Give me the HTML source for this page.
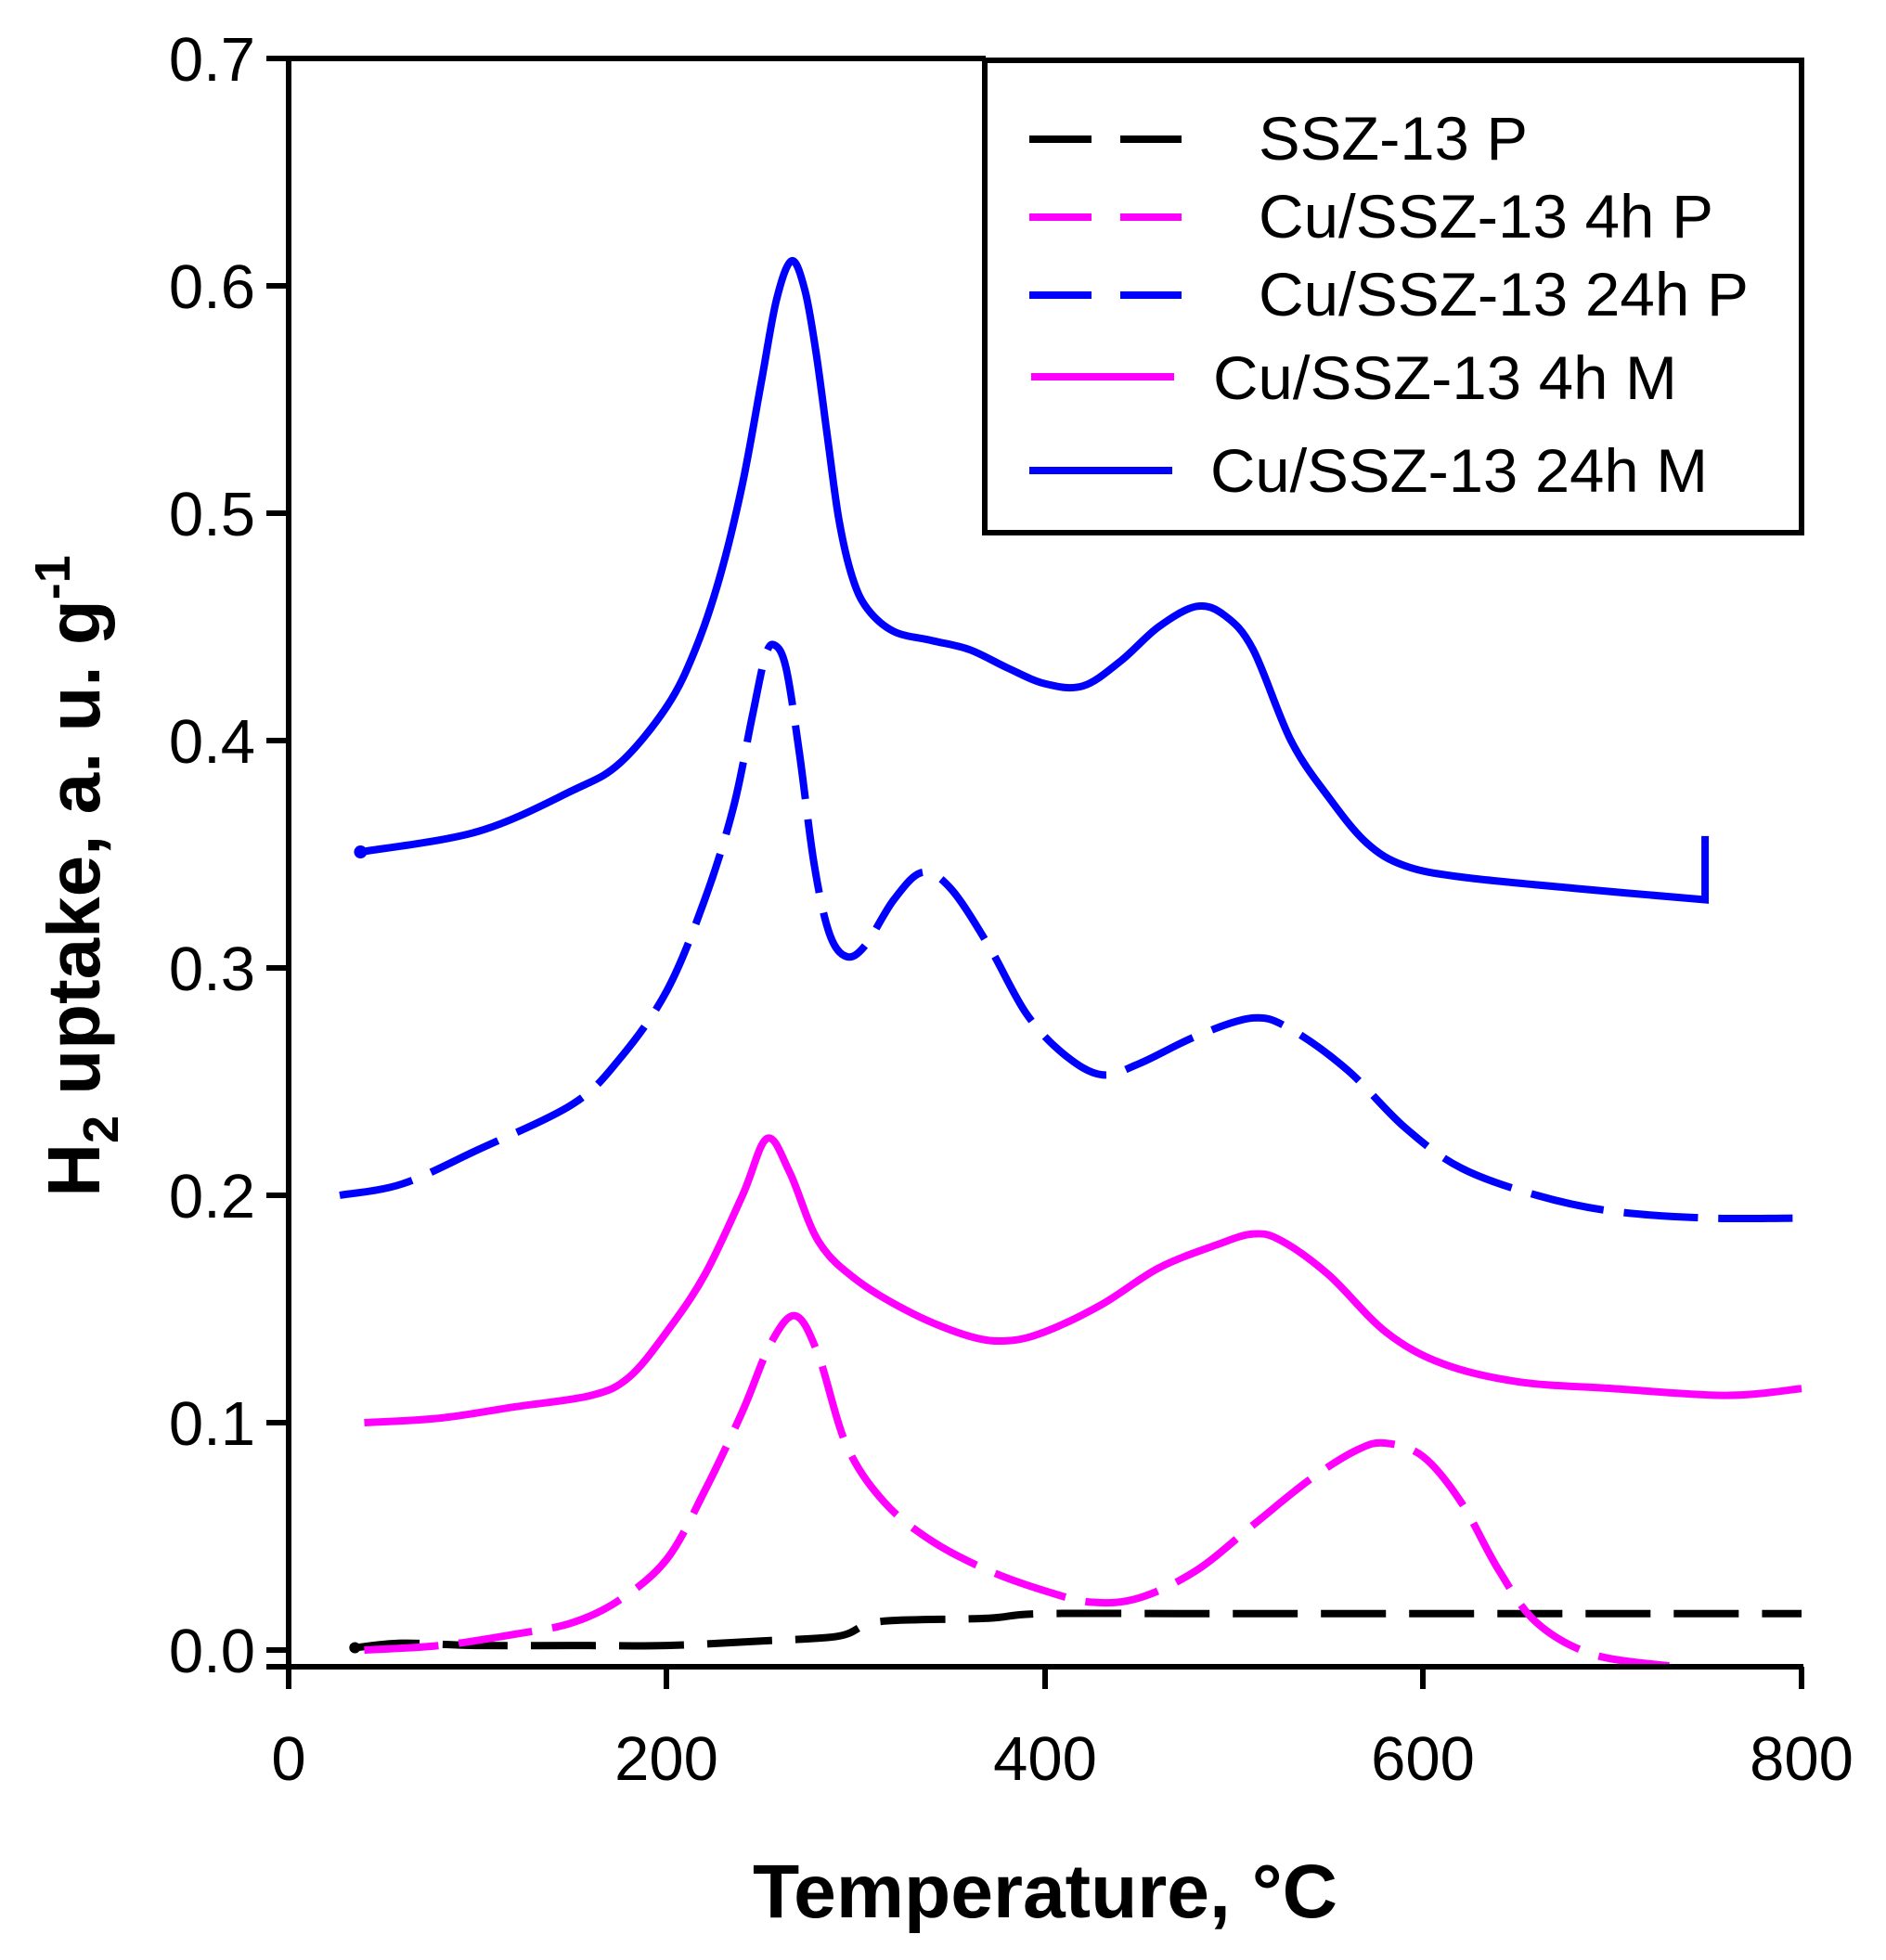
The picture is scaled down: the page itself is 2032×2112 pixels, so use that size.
<!DOCTYPE html>
<html><head><meta charset="utf-8"><style>
html,body{margin:0;padding:0;background:#fff;}
svg{display:block;font-family:"Liberation Sans",Arial,sans-serif;}
</style></head><body>
<svg id="s" width="2032" height="2112" viewBox="0 0 2032 2112" xmlns="http://www.w3.org/2000/svg">
<rect width="2032" height="2112" fill="#fff"/>
<g id="curves"></g>
<g stroke="#000" stroke-width="6" fill="none">
<line x1="311" y1="63" x2="311" y2="1820"/>
<line x1="287" y1="1796" x2="1943" y2="1796"/>
<line x1="287" y1="63" x2="1062" y2="63"/>
<rect x="1061" y="65" width="880" height="509"/>
<line x1="718" y1="1796" x2="718" y2="1820"/>
<line x1="1126" y1="1796" x2="1126" y2="1820"/>
<line x1="1533" y1="1796" x2="1533" y2="1820"/>
<line x1="1941" y1="1796" x2="1941" y2="1820"/>
<line x1="287" y1="1778" x2="311" y2="1778"/>
<line x1="287" y1="1533" x2="311" y2="1533"/>
<line x1="287" y1="1288" x2="311" y2="1288"/>
<line x1="287" y1="1043" x2="311" y2="1043"/>
<line x1="287" y1="798" x2="311" y2="798"/>
<line x1="287" y1="553" x2="311" y2="553"/>
<line x1="287" y1="308" x2="311" y2="308"/>
</g>
<g font-size="67" text-anchor="end" fill="#000">
<text x="275" y="1802">0.0</text>
<text x="275" y="1557">0.1</text>
<text x="275" y="1312">0.2</text>
<text x="275" y="1067">0.3</text>
<text x="275" y="822">0.4</text>
<text x="275" y="577">0.5</text>
<text x="275" y="332">0.6</text>
<text x="275" y="87">0.7</text>
</g>
<g font-size="67" text-anchor="middle" fill="#000">
<text x="311" y="1918">0</text>
<text x="718" y="1918">200</text>
<text x="1126" y="1918">400</text>
<text x="1533" y="1918">600</text>
<text x="1941" y="1918">800</text>
</g>
<text x="1126" y="2066" font-size="82" font-weight="bold" text-anchor="middle" textLength="630" lengthAdjust="spacingAndGlyphs">Temperature, °C</text>
<g transform="translate(107,944) rotate(-90)">
<text x="0" y="0" font-size="80" font-weight="bold" text-anchor="middle">H<tspan font-size="54" dy="20">2</tspan><tspan dy="-20"> uptake, a. u. g</tspan><tspan font-size="54" dy="-32">-1</tspan></text>
</g>
<g stroke-width="8" fill="none">
<line x1="1109" y1="150" x2="1273" y2="150" stroke="#000" stroke-dasharray="67 31"/>
<line x1="1109" y1="234" x2="1273" y2="234" stroke="#ff00ff" stroke-dasharray="67 31"/>
<line x1="1109" y1="318" x2="1273" y2="318" stroke="#0000ff" stroke-dasharray="67 31"/>
<line x1="1111" y1="406" x2="1265" y2="406" stroke="#ff00ff"/>
<line x1="1109" y1="507" x2="1263" y2="507" stroke="#0000ff"/>
</g>
<g font-size="66" fill="#000">
<text x="1356" y="172" textLength="290" lengthAdjust="spacingAndGlyphs">SSZ-13 P</text>
<text x="1356" y="256" textLength="490" lengthAdjust="spacingAndGlyphs">Cu/SSZ-13 4h P</text>
<text x="1356" y="340" textLength="528" lengthAdjust="spacingAndGlyphs">Cu/SSZ-13 24h P</text>
<text x="1307" y="430" textLength="500" lengthAdjust="spacingAndGlyphs">Cu/SSZ-13 4h M</text>
<text x="1304" y="530" textLength="536" lengthAdjust="spacingAndGlyphs">Cu/SSZ-13 24h M</text>
</g>
</svg>
<script>
(function(){
var X=function(t){return 311+2.0375*t;},Y=function(v){return 1778-2450*v;};
var series=[
{c:"#000",d:"70 25",p:[[35,0.001],[60,0.003],[100,0.002],[150,0.002],[200,0.002],[250,0.004],[290,0.006],[305,0.011],[320,0.013],[370,0.014],[400,0.016],[500,0.016],[800,0.016]]},
{c:"#ff00ff",d:"80 22",p:[[40,0],[80,0.002],[120,0.007],[150,0.012],[175,0.022],[200,0.04],[220,0.07],[240,0.105],[255,0.135],[268,0.147],[280,0.13],[295,0.09],[315,0.065],[340,0.048],[370,0.035],[400,0.026],[425,0.021],[450,0.023],[480,0.035],[510,0.055],[540,0.075],[565,0.088],[580,0.091],[600,0.085],[620,0.065],[640,0.035],[660,0.012],[690,-0.002],[730,-0.007]]},
{c:"#ff00ff",d:null,p:[[40,0.1],[80,0.102],[120,0.107],[160,0.112],[180,0.12],[200,0.14],[220,0.165],[240,0.2],[253,0.225],[265,0.21],[280,0.18],[300,0.163],[330,0.148],[360,0.138],[380,0.136],[400,0.14],[430,0.152],[460,0.168],[490,0.178],[510,0.183],[525,0.18],[550,0.165],[580,0.14],[610,0.126],[650,0.118],[700,0.115],[760,0.112],[800,0.115]]},
{c:"#0000ff",d:"80 22",p:[[27,0.2],[60,0.205],[100,0.22],[150,0.24],[175,0.26],[200,0.29],[220,0.33],[235,0.37],[245,0.41],[252,0.437],[257,0.442],[263,0.432],[270,0.395],[278,0.345],[286,0.315],[295,0.305],[305,0.31],[320,0.33],[335,0.342],[350,0.335],[370,0.31],[390,0.28],[410,0.262],[430,0.253],[450,0.258],[480,0.27],[510,0.278],[530,0.273],[560,0.255],[590,0.23],[620,0.212],[660,0.2],[700,0.193],[750,0.19],[800,0.19]]},
{c:"#0000ff",d:null,lin:[749,0.358],p:[[38,0.351],[100,0.36],[150,0.378],[175,0.39],[200,0.415],[215,0.44],[228,0.472],[240,0.513],[250,0.558],[258,0.594],[266,0.611],[273,0.598],[279,0.57],[285,0.533],[291,0.497],[298,0.472],[306,0.458],[320,0.448],[340,0.444],[360,0.44],[380,0.432],[400,0.425],[420,0.424],[440,0.435],[460,0.45],[480,0.459],[495,0.455],[510,0.44],[530,0.40],[550,0.375],[570,0.355],[590,0.345],[620,0.34],[680,0.335],[749,0.33]]}
];
var g=document.getElementById("curves"),ns="http://www.w3.org/2000/svg";
series.forEach(function(s){
 var pts=s.p.map(function(q){return [X(q[0]),Y(q[1])];});
 var d="M"+pts[0][0]+","+pts[0][1];
 for(var i=0;i<pts.length-1;i++){
  var p0=pts[Math.max(i-1,0)],p1=pts[i],p2=pts[i+1],p3=pts[Math.min(i+2,pts.length-1)];
  var c1x=p1[0]+(p2[0]-p0[0])/6,c1y=p1[1]+(p2[1]-p0[1])/6,c2x=p2[0]-(p3[0]-p1[0])/6,c2y=p2[1]-(p3[1]-p1[1])/6;
  d+=" C"+c1x+","+c1y+" "+c2x+","+c2y+" "+p2[0]+","+p2[1];
 }
 if(s.lin)d+=" L"+X(s.lin[0])+","+Y(s.lin[1]);
 var e=document.createElementNS(ns,"path");
 e.setAttribute("d",d);e.setAttribute("fill","none");e.setAttribute("stroke",s.c);
 e.setAttribute("stroke-width","8");if(s.d)e.setAttribute("stroke-dasharray",s.d);
 g.appendChild(e);
});
var dot=document.createElementNS(ns,"circle");dot.setAttribute("cx",X(35));dot.setAttribute("cy",Y(0.001));dot.setAttribute("r",6);dot.setAttribute("fill","#000");g.appendChild(dot);
var dot2=document.createElementNS(ns,"circle");dot2.setAttribute("cx",X(38));dot2.setAttribute("cy",Y(0.351));dot2.setAttribute("r",7);dot2.setAttribute("fill","#0000ff");g.appendChild(dot2);
})();
</script>
</body></html>
